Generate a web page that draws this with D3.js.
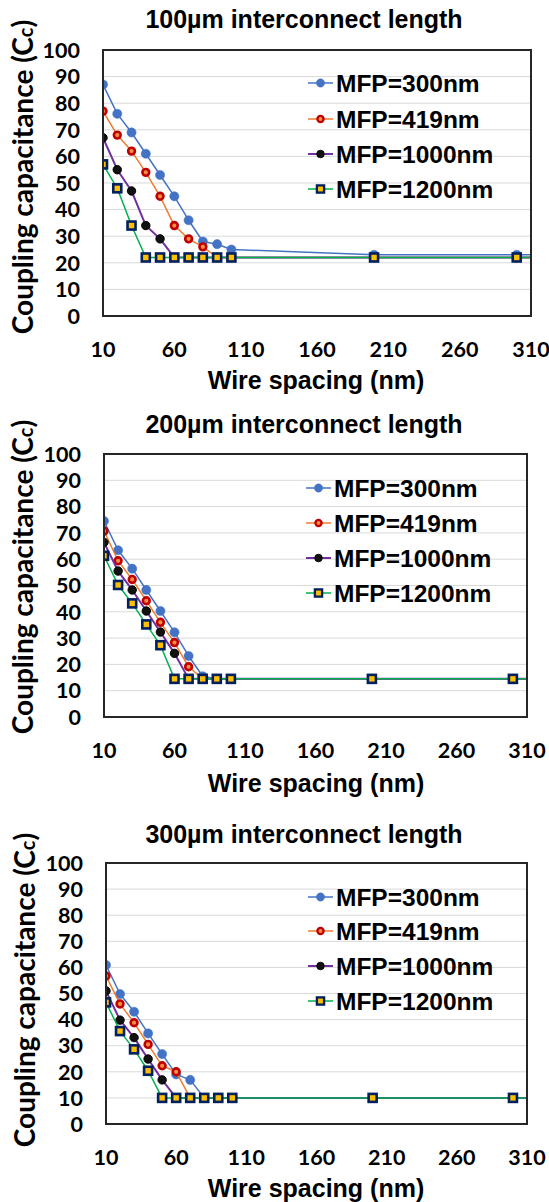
<!DOCTYPE html>
<html>
<head>
<meta charset="utf-8">
<script src="https://cdn.jsdelivr.net/npm/d3@7"></script>
<style>
  html, body { margin: 0; padding: 0; background: #fff; }
  svg { display: block; }
</style>
</head>
<body>
<svg id="chart" width="549" height="1202"></svg>
<script>
// ---------------- DATA ----------------
const wireSpacing = [10, 20, 30, 40, 50, 60, 70, 80, 90, 100, 200, 300, 400];
const xTickValues = [10, 60, 110, 160, 210, 260, 310];
const yTickValues = [0, 10, 20, 30, 40, 50, 60, 70, 80, 90, 100];
const seriesNames = ["MFP=300nm", "MFP=419nm", "MFP=1000nm", "MFP=1200nm"];
const panelTitles = ["100µm interconnect length", "200µm interconnect length", "300µm interconnect length"];

// 100 µm interconnect length
const len100_mfp300  = [87, 76, 69, 61, 53, 45, 36, 28, 27, 25, 23, 23, 23];
const len100_mfp419  = [77, 68, 62, 54, 45, 34, 29, 26, 22, 22, 22, 22, 22];
const len100_mfp1000 = [67, 55, 47, 34, 29, 22, 22, 22, 22, 22, 22, 22, 22];
const len100_mfp1200 = [57, 48, 34, 22, 22, 22, 22, 22, 22, 22, 22, 22, 22];

// 200 µm interconnect length
const len200_mfp300  = [74.5, 63.4, 56.4, 48.3, 40.3, 32.2, 23.2, 15.5, 14.5, 14.5, 14.5, 14.5, 14.5];
const len200_mfp419  = [70.7, 59.4, 52.3, 44.2, 36.0, 28.3, 19.1, 14.5, 14.5, 14.5, 14.5, 14.5, 14.5];
const len200_mfp1000 = [66.4, 55.5, 48.3, 40.3, 32.3, 24.2, 14.5, 14.5, 14.5, 14.5, 14.5, 14.5, 14.5];
const len200_mfp1200 = [61.3, 50.2, 43.2, 35.2, 27.3, 14.5, 14.5, 14.5, 14.5, 14.5, 14.5, 14.5, 14.5];

// 300 µm interconnect length
const len300_mfp300  = [60.9, 49.8, 43.0, 34.7, 26.8, 19.0, 16.9, 10, 10, 10, 10, 10, 10];
const len300_mfp419  = [56.7, 46.0, 38.8, 30.5, 22.3, 20.0, 10, 10, 10, 10, 10, 10, 10];
const len300_mfp1000 = [51.0, 39.8, 33.1, 24.9, 16.9, 10, 10, 10, 10, 10, 10, 10, 10];
const len300_mfp1200 = [46.6, 35.6, 28.6, 20.4, 10, 10, 10, 10, 10, 10, 10, 10, 10];

const panelSeries = [
  [len100_mfp300, len100_mfp419, len100_mfp1000, len100_mfp1200],
  [len200_mfp300, len200_mfp419, len200_mfp1000, len200_mfp1200],
  [len300_mfp300, len300_mfp419, len300_mfp1000, len300_mfp1200]
];

// ---------------- STYLE / LAYOUT ----------------
const styles = [
  { line: "#4472C4", lw: 1.5, marker: "circle", fill: "#4472C4", stroke: "#4472C4", sw: 0.5, r: 4.6 },
  { line: "#ED7D31", lw: 1.5, marker: "ring",   fill: "#F09040", stroke: "#C00000", sw: 2.6, r: 3.4 },
  { line: "#7030A0", lw: 2,   marker: "circle", fill: "#111111", stroke: "#000000", sw: 1,   r: 4.2 },
  { line: "#00B050", lw: 1.5, marker: "square", fill: "#FFC000", stroke: "#002060", sw: 2.6, r: 4.0 }
];

const layouts = [
  { l: 103, t: 50,  r: 531, b: 316,  titleY: 28,  tickY: 357,  xTitleY: 389,  yTitleY: 177, yTitleX: 33,
    legX: 308, legY: [83, 119, 154, 189] },
  { l: 104, t: 454, r: 527, b: 717,  titleY: 433, tickY: 758,  xTitleY: 792,  yTitleY: 577, yTitleX: 33,
    legX: 306, legY: [488, 523, 558, 593] },
  { l: 106, t: 863, r: 527, b: 1124, titleY: 843, tickY: 1165, xTitleY: 1197, yTitleY: 990, yTitleX: 35,
    legX: 308, legY: [897, 931, 966, 1001] }
];

const svg = d3.select("#chart");
svg.append("rect").attr("width", 549).attr("height", 1202).attr("fill", "#fff");

const labelFont = "Lato, 'Open Sans', sans-serif";
const arialFont = "'Liberation Sans', Arial, sans-serif";

function drawMarker(g, st, cx, cy, scale) {
  const k = scale || 1;
  if (st.marker === "square") {
    const s = st.r * 2 * k;
    g.append("rect").attr("x", cx - s / 2).attr("y", cy - s / 2).attr("width", s).attr("height", s)
      .attr("fill", st.fill).attr("stroke", st.stroke).attr("stroke-width", st.sw * k);
  } else {
    g.append("circle").attr("cx", cx).attr("cy", cy).attr("r", st.r * k)
      .attr("fill", st.fill).attr("stroke", st.stroke).attr("stroke-width", st.sw * k);
  }
}

layouts.forEach((L, pi) => {
  const g = svg.append("g");
  const x = d3.scaleLinear().domain([10, 310]).range([L.l, L.r]);
  const y = d3.scaleLinear().domain([0, 100]).range([L.b, L.t]);

  // gridlines
  g.append("g").selectAll("line").data(yTickValues.filter(v => v > 0 && v < 100)).join("line")
    .attr("x1", L.l).attr("x2", L.r).attr("y1", d => y(d)).attr("y2", d => y(d))
    .attr("stroke", "#d9d9d9").attr("stroke-width", 1);

  // clip
  const clipId = "clip" + pi;
  svg.append("clipPath").attr("id", clipId).append("rect")
    .attr("x", L.l).attr("y", L.t).attr("width", L.r - L.l).attr("height", L.b - L.t);

  const plot = g.append("g").attr("clip-path", `url(#${clipId})`);
  const line = d3.line().x((d, i) => x(wireSpacing[i])).y(d => y(d));

  panelSeries[pi].forEach((vals, si) => {
    const st = styles[si];
    plot.append("path").datum(vals).attr("d", line)
      .attr("fill", "none").attr("stroke", st.line).attr("stroke-width", st.lw).attr("stroke-linejoin", "round");
    const mg = plot.append("g");
    vals.forEach((v, i) => {
      if (wireSpacing[i] <= 310) drawMarker(mg, st, x(wireSpacing[i]), y(v), 1);
    });
  });

  // plot border
  g.append("rect").attr("x", L.l).attr("y", L.t).attr("width", L.r - L.l).attr("height", L.b - L.t)
    .attr("fill", "none").attr("stroke", "#262626").attr("stroke-width", 2);

  // y ticks
  g.append("g").selectAll("text").data(yTickValues).join("text")
    .attr("x", L.l - 23).attr("y", d => y(d)).attr("dy", "0.36em")
    .attr("text-anchor", "end").attr("font-family", labelFont).attr("font-weight", 700)
    .attr("font-size", 21.5).attr("fill", "#000").text(d => d);

  // x ticks
  g.append("g").selectAll("text").data(xTickValues).join("text")
    .attr("x", d => x(d)).attr("y", L.tickY)
    .attr("text-anchor", "middle").attr("font-family", labelFont).attr("font-weight", 700)
    .attr("font-size", 21.5).attr("fill", "#000").text(d => d);

  // title
  g.append("text").attr("x", 304).attr("y", L.titleY).attr("text-anchor", "middle")
    .attr("font-family", arialFont).attr("font-weight", 700).attr("font-size", 25)
    .attr("fill", "#000").text(panelTitles[pi]);

  // x axis title
  g.append("text").attr("x", 316).attr("y", L.xTitleY).attr("text-anchor", "middle")
    .attr("font-family", arialFont).attr("font-weight", 700).attr("font-size", 25)
    .attr("fill", "#000").text("Wire spacing (nm)");

  // y axis title
  const yt = g.append("text").attr("transform", `translate(${L.yTitleX},${L.yTitleY}) rotate(-90)`)
    .attr("text-anchor", "middle").attr("font-family", labelFont).attr("font-weight", 700)
    .attr("font-size", 28).attr("fill", "#000");
  yt.append("tspan").text("Coupling capacitance (C");
  yt.append("tspan").attr("font-size", 20).text("c");
  yt.append("tspan").text(")");

  // legend
  const lg = g.append("g");
  seriesNames.forEach((name, si) => {
    const st = styles[si];
    const ly = L.legY[si];
    lg.append("line").attr("x1", L.legX).attr("x2", L.legX + 25).attr("y1", ly).attr("y2", ly)
      .attr("stroke", st.line).attr("stroke-width", st.lw);
    drawMarker(lg, st, L.legX + 12.5, ly, 0.9);
    lg.append("text").attr("x", L.legX + 28).attr("y", ly).attr("dy", "0.36em")
      .attr("font-family", arialFont).attr("font-weight", 700).attr("font-size", 24.5)
      .attr("fill", "#000").text(name);
  });
});
</script>
</body>
</html>
